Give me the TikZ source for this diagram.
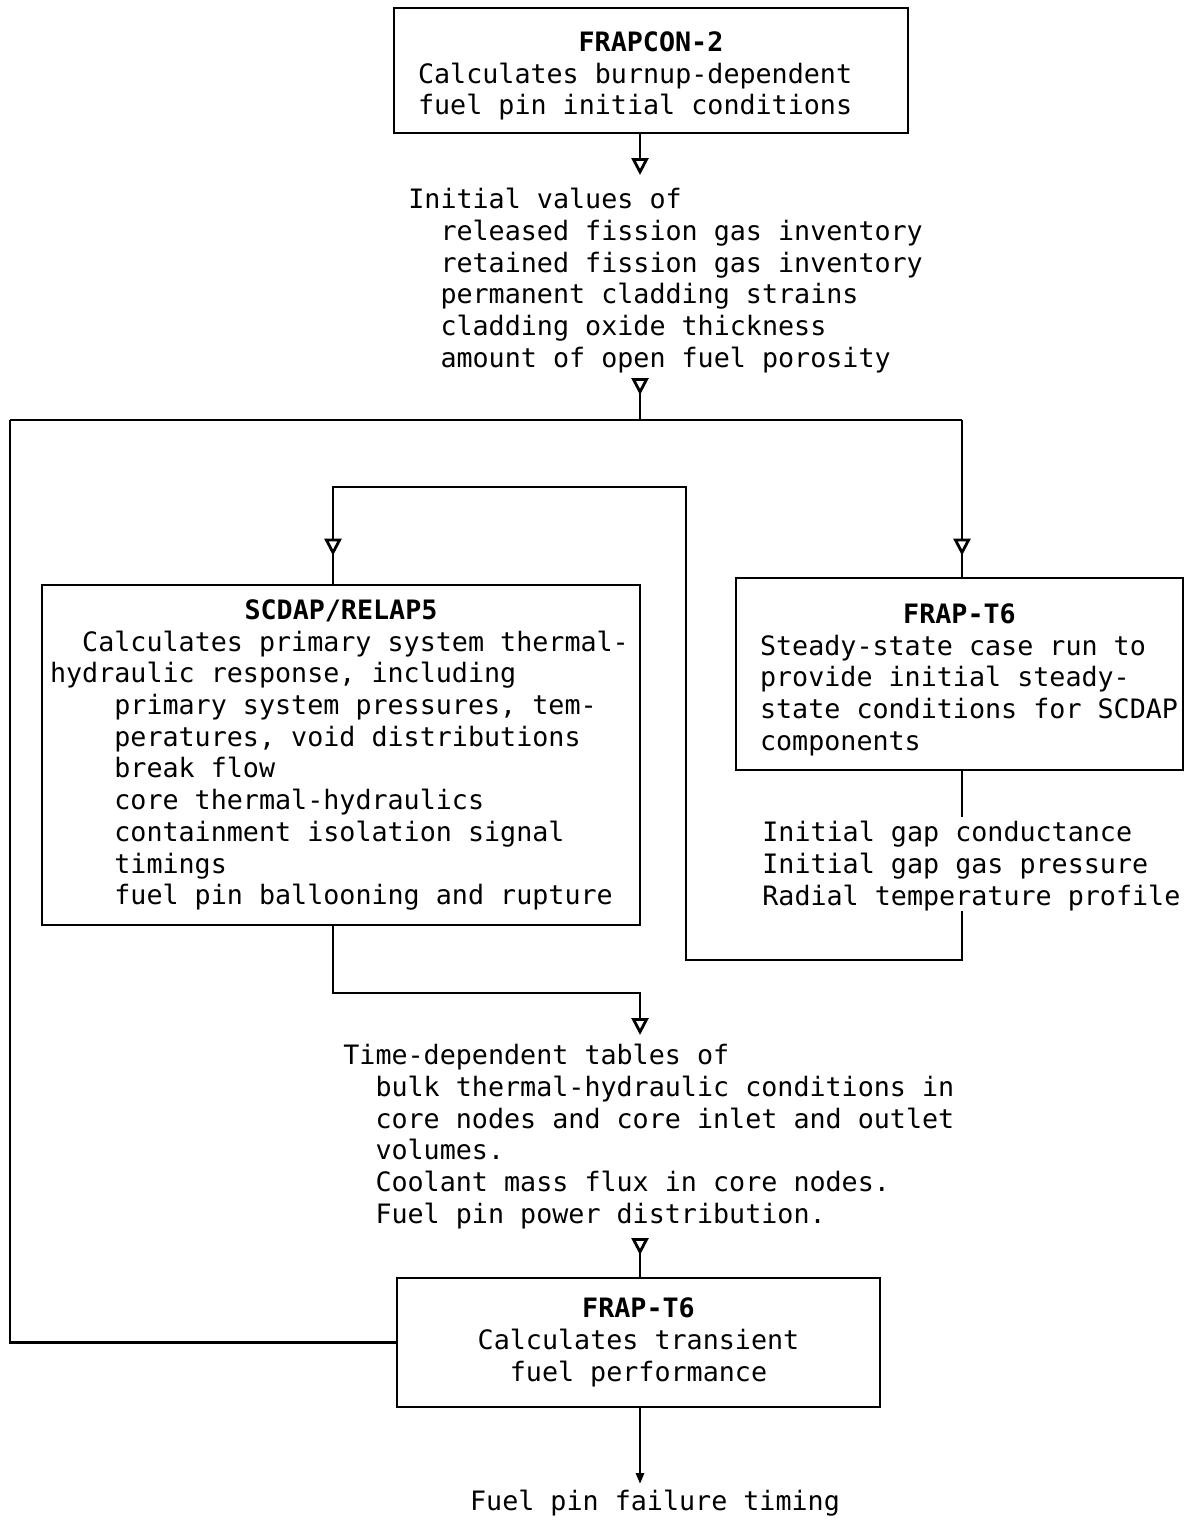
\documentclass[tikz,border=0pt]{standalone}
\usepackage{fontspec}
\setmonofont{DejaVu Sans Mono}
\usetikzlibrary{arrows.meta,decorations.markings}

% two character indent, a free offset, and fixed word spaces
\newcommand\ind{\hspace*{1.204em}}
\newcommand\pad[1]{\hspace*{#1}}
\newcommand\fixsp{\spaceskip=0.602em\relax\xspaceskip=0.602em\relax}

\tikzset{
  box/.style = {draw, line width=1.6pt, inner sep=0pt, align=left,
    execute at begin node=\fixsp},
  txt/.style = {inner sep=0pt, align=left, anchor=north west},
  link/.style = {line width=1.6pt},
  flow/.style = {link, -{Triangle[fill=white, length=0.34cm, width=0.34cm]}},
  tri at/.style = {postaction={decorate},
    decoration={markings, mark=at position #1 with
      {\arrow{Triangle[fill=white, length=0.34cm, width=0.34cm]}}}},
  result/.style = {link, -{Triangle[length=0.22cm, width=0.16cm]}},
}

\begin{document}
\begin{tikzpicture}[x=0.02cm, y=-0.02cm,
    font=\ttfamily\fontsize{15.2pt}{18.05pt}\selectfont]
    \useasboundingbox (0,0) rectangle (1187,1521);

    % junction points
    \coordinate (spine) at (640,0);
    \coordinate (bus-l) at (10,420);
    \coordinate (bus-r) at (962,420);
    \coordinate (bus-in) at (640,378);
    \coordinate (loop-l) at (333,487);
    \coordinate (loop-r) at (686,487);
    \coordinate (loop-b) at (686,960);
    \coordinate (scdap-out) at (640,993);
    \coordinate (t6-in) at (640,1238);

    % boxes
    \node[box, text width=10.28cm, minimum height=2.5cm] (frapcon) at (651,70.5)
        {\rule{0pt}{0.62cm}\makebox[\linewidth]{\bfseries FRAPCON-2}\\
         \pad{0.48cm}Calculates burnup-dependent\\
         \pad{0.48cm}fuel pin initial conditions};
    \node[box, text width=11.96cm, minimum height=6.8cm] (scdap) at (341,755)
        {\makebox[\linewidth]{\bfseries SCDAP/RELAP5}\\
         \pad{0.16cm}\ind Calculates primary system thermal-\\
         \pad{0.16cm}hydraulic response, including\\
         \pad{0.16cm}\ind\ind primary system pressures, tem-\\
         \pad{0.16cm}\ind\ind peratures, void distributions\\
         \pad{0.16cm}\ind\ind break flow\\
         \pad{0.16cm}\ind\ind core thermal-hydraulics\\
         \pad{0.16cm}\ind\ind containment isolation signal\\
         \pad{0.16cm}\ind\ind timings\\
         \pad{0.16cm}\ind\ind fuel pin ballooning and rupture};
    \node[box, text width=8.94cm, minimum height=3.84cm] (steady) at (959.5,674)
        {\rule{0pt}{0.62cm}\makebox[\linewidth]{\bfseries FRAP-T6}\\
         \pad{0.48cm}Steady-state case run to\\
         \pad{0.48cm}provide initial steady-\\
         \pad{0.48cm}state conditions for SCDAP\\
         \pad{0.48cm}components};
    \node[box, align=center, text width=9.66cm, minimum height=2.58cm] (transient) at (638.5,1342.5)
        {\textbf{FRAP-T6}\\
         Calculates transient\\
         fuel performance};

    % data passed between codes
    \node[txt] (initvals) at (408,188)
        {Initial values of\\
         \ind released fission gas inventory\\
         \ind retained fission gas inventory\\
         \ind permanent cladding strains\\
         \ind cladding oxide thickness\\
         \ind amount of open fuel porosity};
    \node[txt] (gaps) at (762,821)
        {Initial gap conductance\\
         Initial gap gas pressure\\
         Radial temperature profile};
    \node[txt] (tables) at (343,1044)
        {Time-dependent tables of\\
         \ind bulk thermal-hydraulic conditions in\\
         \ind core nodes and core inlet and outlet\\
         \ind volumes.\\
         \ind Coolant mass flux in core nodes.\\
         \ind Fuel pin power distribution.};
    \node[inner sep=0pt, anchor=north] (failure) at (655,1490) {Fuel pin failure timing};

    % connectors
    \draw[flow, shorten >=0.26cm] (frapcon.south -| spine) -- (initvals.north -| spine);
    \draw[link, tri at=0.34cm] (bus-in) -- (bus-in |- bus-l);
    \draw[link] (bus-l) -- (bus-r);
    \draw[link, tri at=-0.42cm] (bus-r) -- (steady.north -| bus-r);
    \draw[link] (transient.west) -| (bus-l);
    \draw[link, shorten >=0.08cm] (steady.south -| bus-r) -- (gaps.north -| bus-r);
    \draw[link, tri at=-0.56cm] (gaps.south -| bus-r) |- (loop-b) -- (loop-r) -- (loop-l)
        -- (scdap.north -| loop-l);
    \draw[flow, shorten >=0.18cm] (scdap.south -| loop-l) |- (scdap-out) -- (tables.north -| scdap-out);
    \draw[link, tri at=0.34cm] (t6-in) -- (transient.north -| t6-in);
    \draw[result, shorten >=0.12cm] (transient.south -| spine) -- (failure.north -| spine);
\end{tikzpicture}
\end{document}
